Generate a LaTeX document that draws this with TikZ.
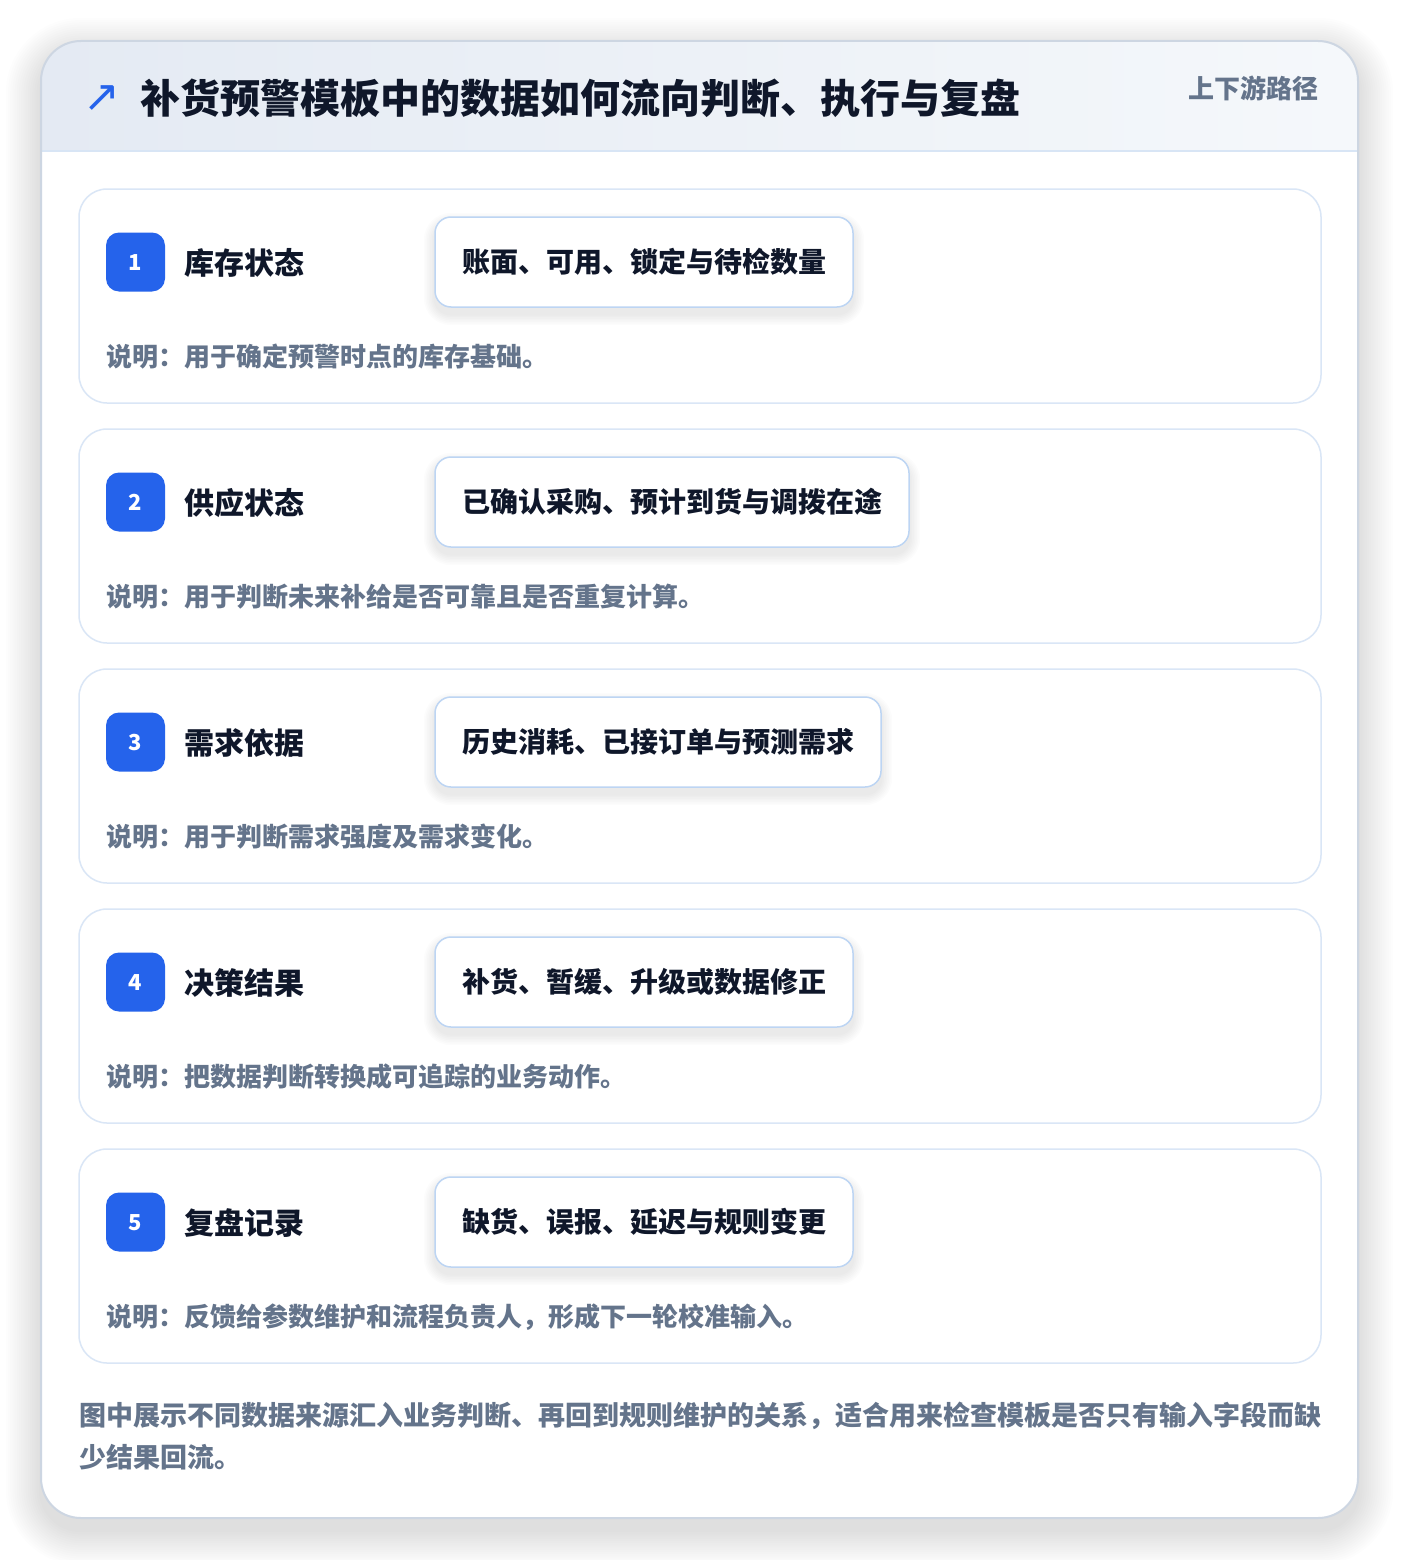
\documentclass[tikz,border=0pt]{standalone}
\usepackage{fontspec}
\setmainfont{Noto Sans CJK SC}
\newfontfamily\symfont{DejaVu Sans}
\usetikzlibrary{calc}
\definecolor{ink}{HTML}{0F172A}
\definecolor{muted}{HTML}{64748B}
\definecolor{accent}{HTML}{2563EB}
\definecolor{cardborder}{HTML}{CDD6E2}
\definecolor{rowborder}{HTML}{DAE6F6}
\definecolor{pillborder}{HTML}{BDD5F3}
\definecolor{headL}{HTML}{E4EAF3}
\definecolor{headR}{HTML}{F5F8FB}
\definecolor{headline}{HTML}{D8E5F5}
\tikzset{
  titletext/.style={font=\fontsize{40}{48}\selectfont\bfseries, text=ink, inner sep=0, outer sep=0, text height=35.2pt, text depth=4.8pt, anchor=west},
  tagtext/.style={font=\fontsize{26}{32}\selectfont\bfseries, text=muted, inner sep=0, text height=22.9pt, text depth=3.1pt, anchor=west},
  rowcard/.style={draw=rowborder, line width=1.5pt, fill=white, rounded corners=28pt, minimum width=1242pt, minimum height=214pt, inner sep=0, outer sep=0, anchor=north west},
  badge/.style={fill=accent, text=white, rounded corners=13pt, minimum width=59pt, minimum height=59pt, inner sep=0, outer sep=0, font=\fontsize{22}{26}\selectfont\bfseries, text height=16.1pt, text depth=0pt},
  labeltext/.style={font=\fontsize{30}{36}\selectfont\bfseries, text=ink, inner sep=0, text height=26.4pt, text depth=3.6pt, anchor=west},
  pill/.style={draw=pillborder, line width=1.5pt, fill=white, rounded corners=16pt, minimum height=90pt, inner xsep=0, inner ysep=0, outer sep=0, anchor=west, font=\fontsize{28}{34}\selectfont\bfseries, text=ink, text height=24.64pt, text depth=3.36pt},
  desctext/.style={font=\fontsize{26}{32}\selectfont\bfseries, text=muted, inner sep=0, text height=22.9pt, text depth=3.1pt, anchor=west},
  foottext/.style={font=\fontsize{27}{34}\selectfont\bfseries, text=muted, inner sep=0, text height=23.8pt, text depth=3.2pt, anchor=west},
}
\begin{document}
\begin{tikzpicture}[x=1pt,y=-1pt]
\useasboundingbox (0,0) rectangle (1400,1560);
\fill[white] (0,0) rectangle (1400,1560);
% outer shadow
\foreach \k in {1,...,16}{
  \pgfmathsetmacro{\e}{\k*2.2}
  \pgfmathsetmacro{\rr}{40+\e}
  \fill[black, opacity=0.007, rounded corners=\rr pt] (41-\e, 41-\e+12) rectangle (1358+\e, 1518+\e+12);
}
% outer card
\fill[white, rounded corners=40pt] (41,41) rectangle (1358,1518);
\begin{scope}
  \clip[rounded corners=40pt] (41,41) rectangle (1358,1518);
  \shade[left color=headL, right color=headR] (41,41) rectangle (1358,151);
  \draw[headline, line width=1.5pt] (41,151) -- (1358,151);
\end{scope}
\draw[cardborder, line width=2pt, rounded corners=40pt] (41,41) rectangle (1358,1518);
% header
\node[inner sep=0, text=accent, font=\symfont\fontsize{44}{48}\selectfont] (icon) at (102,99) {↗};
\node[titletext] (title) at (140,98) {补货预警模板中的数据如何流向判断、执行与复盘};
\node[tagtext] (tag) at (1188,89) {上下游路径};
% rows
\foreach \i/\lab/\pilltxt/\w/\desc in {
  1/{库存状态}/{账面、可用、锁定与待检数量}/418/{说明：用于确定预警时点的库存基础。},
  2/{供应状态}/{已确认采购、预计到货与调拨在途}/474/{说明：用于判断未来补给是否可靠且是否重复计算。},
  3/{需求依据}/{历史消耗、已接订单与预测需求}/446/{说明：用于判断需求强度及需求变化。},
  4/{决策结果}/{补货、暂缓、升级或数据修正}/418/{说明：把数据判断转换成可追踪的业务动作。},
  5/{复盘记录}/{缺货、误报、延迟与规则变更}/418/{说明：反馈给参数维护和流程负责人，形成下一轮校准输入。}}{
  \pgfmathsetmacro{\rowtop}{189+(\i-1)*240}
  \node[rowcard] (card\i) at (79,\rowtop) {};
  \node[badge] (badge\i) at (135.5,\rowtop+73) {\i};
  \node[labeltext] (label\i) at (184,\rowtop+74) {\lab};
  \foreach \k in {1,...,7}{
    \pgfmathsetmacro{\e}{\k*1.6}
    \pgfmathsetmacro{\rr}{16+\e}
    \fill[black, opacity=0.01, rounded corners=\rr pt] (435-\e, \rowtop+28+7-\e) rectangle (435+\w+\e, \rowtop+118+7+\e);
  }
  \node[pill, minimum width=\w pt] (pill\i) at (435,\rowtop+73) {\pilltxt};
  \node[desctext] (desc\i) at (106,\rowtop+168) {\desc};
}
% footer
\node[foottext] (foot1) at (79,1415) {图中展示不同数据来源汇入业务判断、再回到规则维护的关系，适合用来检查模板是否只有输入字段而缺};
\node[foottext] (foot2) at (79,1457) {少结果回流。};
\end{tikzpicture}
\end{document}
